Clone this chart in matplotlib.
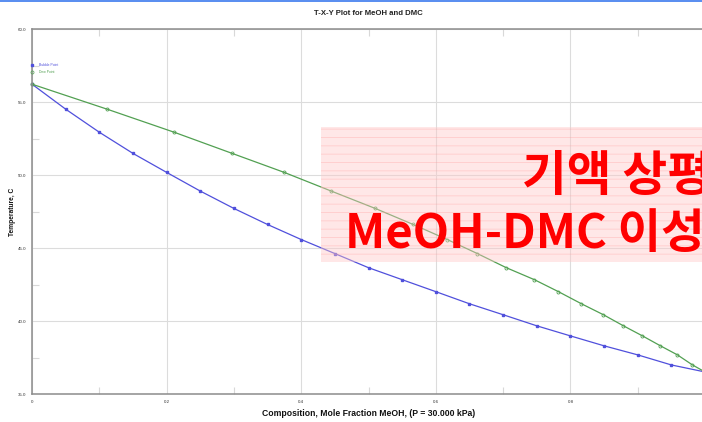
import matplotlib
matplotlib.use("Agg")
import matplotlib.pyplot as plt
from matplotlib.lines import Line2D
from matplotlib.patches import Rectangle
from matplotlib.ticker import MultipleLocator, FormatStrFormatter

# liquid composition / bubble point
x_liq = [0.0, 0.05, 0.1, 0.15, 0.2, 0.25, 0.3, 0.35, 0.4, 0.45, 0.5,
         0.55, 0.6, 0.65, 0.7, 0.75, 0.8, 0.85, 0.9, 0.95, 1.0]
t_bubble = [56.22, 54.51, 52.93, 51.48, 50.18, 48.90, 47.71, 46.61, 45.58,
            44.62, 43.65, 42.83, 42.01, 41.18, 40.43, 39.67, 38.98, 38.30,
            37.68, 36.99, 36.51]
# vapour composition / dew point
y_vap = [0.0, 0.1115, 0.2112, 0.2974, 0.3747, 0.4446, 0.510, 0.5665, 0.617,
         0.6617, 0.7048, 0.7465, 0.7822, 0.8164, 0.849, 0.8788, 0.9071,
         0.9338, 0.959, 0.9814, 1.0]
t_dew = t_bubble

title = "T-X-Y Plot for MeOH and DMC"
xlabel = "Composition, Mole Fraction MeOH, (P = 30.000 kPa)"
ylabel = "Temperature, C"
banner = ["기액 상평", "MeOH-DMC 이성"]

plt.rcParams['font.family'] = ['Liberation Sans', 'DejaVu Sans']

fig = plt.figure(figsize=(7.02, 4.22), dpi=100)
ax = fig.add_axes([32 / 702, 1 - 394 / 422, 673 / 702, 365 / 422])

blue = '#5050dc'
green = '#52a052'
ax.plot(x_liq, t_bubble, color=blue, lw=0.9, marker='s', ms=1.8,
        mfc=blue, mec=blue, clip_on=False)
ax.plot(y_vap, t_dew, color=green, lw=0.9, marker='o', ms=2.2,
        mfc='none', mec=green, mew=0.6, clip_on=False)

ax.set_xlim(0, 1)
ax.set_ylim(35, 60)
ax.xaxis.set_major_locator(MultipleLocator(0.2))
ax.xaxis.set_minor_locator(MultipleLocator(0.1))
ax.yaxis.set_major_locator(MultipleLocator(5))
ax.yaxis.set_minor_locator(MultipleLocator(2.5))
ax.yaxis.set_major_formatter(FormatStrFormatter('%.1f'))
ax.xaxis.set_major_formatter(
    lambda v, p: '0' if v == 0 else ('' if v >= 0.999 else '%g' % v))
ax.grid(True, which='major', color='#dcdcdc', lw=0.8)
ax.tick_params(which='major', length=0, labelsize=3.2, labelcolor='#333333', pad=4)
ax.tick_params(which='minor', direction='in', length=5, color='#d8d8d8',
               width=0.8, top=True, right=False)
for side in ['left', 'bottom', 'top']:
    ax.spines[side].set_color('#8c8c8c')
    ax.spines[side].set_linewidth(1.1)
ax.spines['right'].set_visible(False)

ax.set_title(title, fontsize=5.6, fontweight='bold', pad=10, color='#222222')
ax.set_xlabel(xlabel, fontsize=6.2, fontweight='bold', labelpad=4, color='#111111')
ax.set_ylabel(ylabel, fontsize=4.8, fontweight='bold', labelpad=1.5, color='#111111')

handles = [Line2D([], [], ls='none', marker='s', ms=1.8, color=blue),
           Line2D([], [], ls='none', marker='o', ms=2.2, mfc='none', mec=green, mew=0.5)]
leg = ax.legend(handles, ['Bubble Point', 'Dew Point'], loc='upper left',
                bbox_to_anchor=(-0.002, 0.906), frameon=False, fontsize=2.4,
                handlelength=0.8, handletextpad=1.6, labelspacing=0.9,
                borderpad=0, borderaxespad=0)
for txt, c in zip(leg.get_texts(), [blue, green]):
    txt.set_color(c)

# blue strip along the top
fig.add_artist(Rectangle((0, 1 - 2 / 422), 1, 2 / 422, transform=fig.transFigure,
                         facecolor='#5b8ff0', edgecolor='none'))

# pink banner overlay with faint stripes
box = (321 / 702, 1 - 262 / 422)
bw, bh = 381 / 702, 135 / 422
fig.add_artist(Rectangle(box, bw, bh, transform=fig.transFigure,
                         facecolor=(1, 0.78, 0.78, 0.42), edgecolor='none', zorder=5))
plt.rcParams['hatch.linewidth'] = 0.7
fig.add_artist(Rectangle(box, bw, bh, transform=fig.transFigure,
                         facecolor='none', edgecolor=(1, 0.62, 0.62, 0.33), lw=0,
                         hatch='--', zorder=5))
kfont = ['Noto Sans CJK KR', 'DejaVu Sans']
fig.text(522 / 702, 1 - 191 / 422, banner[0], color='#ff0000', fontsize=35,
         fontweight='bold', family=kfont, va='baseline', ha='left', zorder=6)
fig.text(345 / 702, 1 - 248 / 422, banner[1], color='#ff0000', fontsize=34,
         fontweight='bold', family=kfont, va='baseline', ha='left', zorder=6)

fig.savefig('out.png', dpi=100)
